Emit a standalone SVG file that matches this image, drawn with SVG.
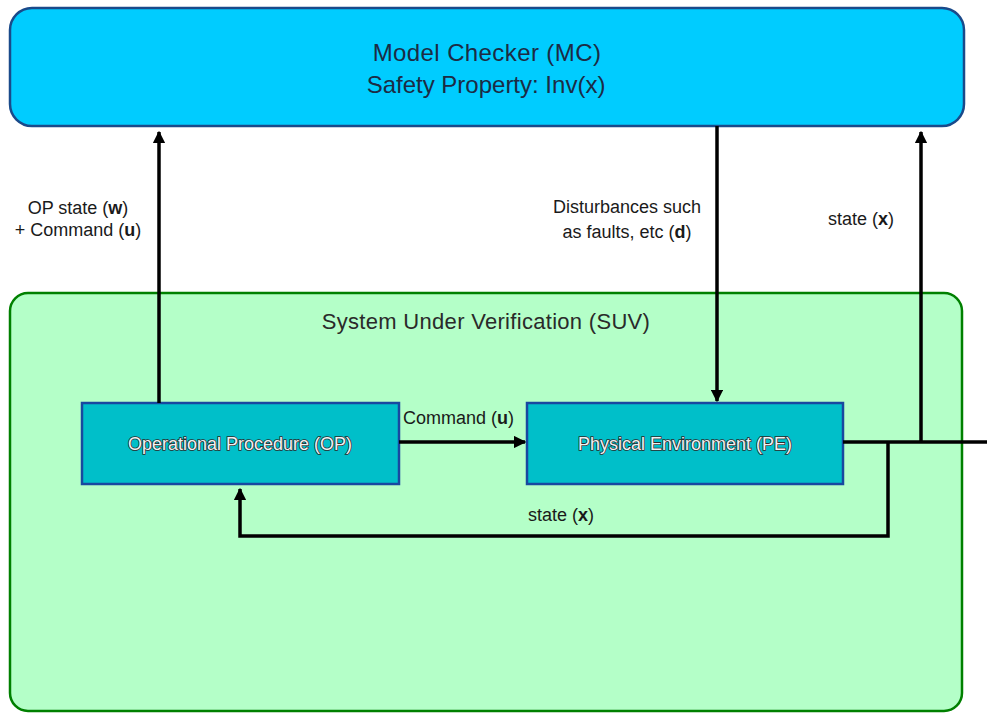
<svg xmlns="http://www.w3.org/2000/svg" width="987" height="713" viewBox="0 0 987 713">
<style>
.lbl{font-family:"Liberation Sans",Arial,sans-serif;font-size:18px;fill:#1a1a1a}
.big{font-family:"Liberation Sans",Arial,sans-serif;font-size:24px;fill:#1c2b44;text-anchor:middle}
.suv{font-family:"Liberation Sans",Arial,sans-serif;font-size:22px;fill:#2a2a2a;text-anchor:middle;letter-spacing:0.3px}
.box{fill:#00bfc9;stroke:#1848a0;stroke-width:2.5}
.boxt{font-family:"Liberation Sans",Arial,sans-serif;font-size:18px;fill:#eef2f3;stroke:#2a2a2a;stroke-width:1.6;paint-order:stroke;text-anchor:middle}
.wire{fill:none;stroke:#000;stroke-width:3.5}
</style>
<defs>
<marker id="ah" viewBox="0 0 10 10" refX="9" refY="5" markerWidth="3.6" markerHeight="3.6" orient="auto" markerUnits="strokeWidth">
<path d="M0,0 L10,5 L0,10 z" fill="#000"/>
</marker>
</defs>
<rect width="987" height="713" fill="#fff"/>
<g id="mc">
<rect x="10" y="8" width="954" height="118" rx="22" ry="22" fill="#00ccff" stroke="#1a4a8a" stroke-width="2.5"/>
<text class="big" x="487" y="61" style="letter-spacing:0.4px">Model Checker (MC)</text>
<text class="big" x="486" y="93">Safety Property: Inv(x)</text>
</g>
<g id="suv">
<rect x="10" y="293" width="952" height="418" rx="18" ry="18" fill="#b4ffc8" stroke="#008000" stroke-width="2.5"/>
<text class="suv" x="486" y="329">System Under Verification (SUV)</text>
</g>
<g id="op">
<rect class="box" x="82" y="403" width="317" height="81"/>
<text class="boxt" x="240" y="450">Operational Procedure (OP)</text>
</g>
<g id="pe">
<rect class="box" x="527" y="403" width="316" height="81"/>
<text class="boxt" x="685" y="450">Physical Environment (PE)</text>
</g>
<g id="connectors">
<path class="wire" d="M159,403 V132" marker-end="url(#ah)"/>
<path class="wire" d="M717,126 V401" marker-end="url(#ah)"/>
<path class="wire" d="M399,442 H525" marker-end="url(#ah)"/>
<path class="wire" d="M843,442 H987"/>
<path class="wire" d="M921,442 V132" marker-end="url(#ah)"/>
<path class="wire" d="M888,442 V536 H240 V489" marker-end="url(#ah)"/>
</g>
<g id="labels">
<text class="lbl" x="78" y="214" text-anchor="middle">OP state (<tspan font-weight="bold">w</tspan>)</text>
<text class="lbl" x="78" y="236" text-anchor="middle">+ Command (<tspan font-weight="bold">u</tspan>)</text>
<text class="lbl" x="627" y="213" text-anchor="middle">Disturbances such</text>
<text class="lbl" x="627" y="238" text-anchor="middle">as faults, etc (<tspan font-weight="bold">d</tspan>)</text>
<text class="lbl" x="861" y="225" text-anchor="middle">state (<tspan font-weight="bold">x</tspan>)</text>
<text class="lbl" x="403" y="424">Command (<tspan font-weight="bold">u</tspan>)</text>
<text class="lbl" x="528" y="521">state (<tspan font-weight="bold">x</tspan>)</text>
</g>
</svg>
